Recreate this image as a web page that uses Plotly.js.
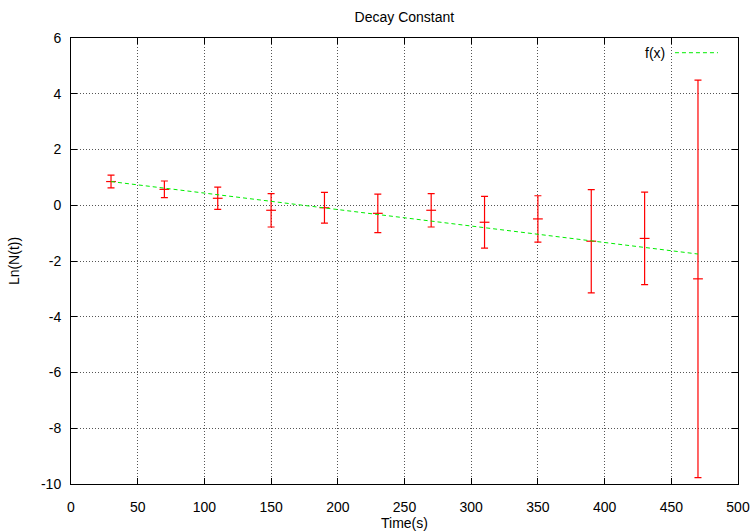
<!DOCTYPE html>
<html>
<head>
<meta charset="utf-8">
<script src="https://cdn.plot.ly/plotly-3.0.1.min.js"></script>
<style>html,body{margin:0;padding:0;background:#fff;}#chart{width:751px;height:532px;}</style>
</head>
<body>
<div id="chart"></div>
<script>
// Measured data
var timeS = [30, 70, 110, 150, 190, 230, 270, 310, 350, 390, 430, 470];
var lnN = [0.85, 0.57, 0.25, -0.18, -0.09, -0.29, -0.18, -0.61, -0.49, -1.29, -1.19, -2.64];
var lnErr = [0.23, 0.30, 0.40, 0.60, 0.55, 0.69, 0.60, 0.93, 0.83, 1.85, 1.66, 7.13];
// Fitted line f(x) endpoints
var fitX = [30, 470];
var fitY = [0.85, -1.75];
var xTicks = [0, 50, 100, 150, 200, 250, 300, 350, 400, 450, 500];
var yTicks = [-10, -8, -6, -4, -2, 0, 2, 4, 6];

var fontFam = 'Liberation Sans, Arial, sans-serif';
var fs = 14;

var traces = [
  {
    x: timeS, y: lnN, type: 'scatter', mode: 'markers',
    marker: {symbol: 'line-ew', size: 7, color: 'rgba(0,0,0,0)', line: {color: '#ff0000', width: 1.2}},
    error_y: {type: 'data', array: lnErr, visible: true, color: '#ff0000', thickness: 1.2, width: 3.5},
    showlegend: false, hoverinfo: 'skip'
  },
  {
    x: fitX, y: fitY, type: 'scatter', mode: 'lines',
    line: {color: '#00ee00', width: 1, dash: '4px,3px'},
    showlegend: false, hoverinfo: 'skip'
  }
];

var axisCommon = {
  showline: true, linecolor: '#000', linewidth: 1, mirror: 'ticks',
  ticks: 'inside', ticklen: 6, tickcolor: '#000', tickwidth: 1,
  showgrid: true, gridcolor: '#555', griddash: '1px,2px', gridwidth: 1,
  zeroline: false, tickfont: {family: fontFam, size: fs, color: '#000'}
};

var layout = {
  width: 751, height: 532,
  paper_bgcolor: '#fff', plot_bgcolor: '#fff',
  margin: {l: 71, r: 13, t: 38, b: 48},
  title: {text: 'Decay Constant', font: {family: fontFam, size: fs, color: '#000'}, x: 0.5385, xanchor: 'center', y: 0.968, yanchor: 'middle'},
  xaxis: Object.assign({}, axisCommon, {
    range: [0, 500], tickvals: xTicks, ticktext: xTicks.map(String), ticklabelstandoff: 10,
    title: {text: 'Time(s)', font: {family: fontFam, size: fs, color: '#000'}, standoff: 1}
  }),
  yaxis: Object.assign({}, axisCommon, {
    range: [-10, 6], tickvals: yTicks, ticktext: yTicks.map(String), ticklabelstandoff: 6,
    title: {text: 'Ln(N(t))', font: {family: fontFam, size: fs, color: '#000'}, standoff: 18}
  }),
  annotations: [
    {text: 'f(x)', xref: 'paper', yref: 'paper', x: 0.893, y: 0.966, xanchor: 'right', yanchor: 'middle', showarrow: false, font: {family: fontFam, size: fs, color: '#000'}}
  ],
  shapes: [
    {type: 'line', xref: 'paper', yref: 'paper', x0: 0.9055, x1: 0.970, y0: 0.967, y1: 0.967, line: {color: '#00ee00', width: 1, dash: '4px,3px'}}
  ]
};

Plotly.newPlot('chart', traces, layout, {staticPlot: true, displayModeBar: false});
</script>
</body>
</html>
